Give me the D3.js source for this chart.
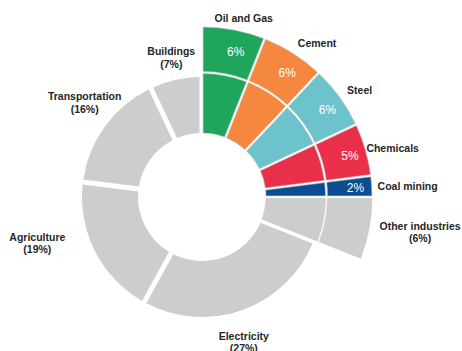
<!DOCTYPE html>
<html>
<head>
<meta charset="utf-8">
<script src="https://cdn.jsdelivr.net/npm/d3@7"></script>
<style>
  html, body { margin: 0; padding: 0; background: #fff; }
  svg { display: block; }
  text { font-family: "Liberation Sans", Arial, sans-serif; }
</style>
</head>
<body>
<svg id="chart" width="462" height="351"></svg>
<script>
// Emission shares by sector (percent of total), clockwise from 12 o'clock
const categories = ["Oil and Gas", "Cement", "Steel", "Chemicals", "Coal mining",
                    "Other industries", "Electricity", "Agriculture", "Transportation", "Buildings"];
const shares = [6, 6, 6, 5, 2, 6, 27, 19, 16, 7];
// Industrial sub-sectors are pulled out into an outer ring
const isIndustry = [true, true, true, true, true, true, false, false, false, false];
// Which slices carry their value inside the outer ring (others show it in the outside label)
const valueInside = [true, true, true, true, true, false, false, false, false, false];
const sliceColors = ["#1fa55c", "#f5883e", "#6dc3cb", "#ea2f4a", "#0c4c90",
                     "#cdcdcd", "#cdcdcd", "#cdcdcd", "#cdcdcd", "#cdcdcd"];

const rows = categories.map((c, i) => ({
  name: c, share: shares[i], industry: isIndustry[i],
  inside: valueInside[i], color: sliceColors[i]
}));

const svg = d3.select("#chart");
const cx = 202, cy = 197;
const g = svg.append("g").attr("transform", `translate(${cx},${cy})`);

const rInner = 64, rOuter = 120, rSplit = 123.5, rRing = 125.5, rExt = 170;

const pie = d3.pie().sort(null).value(d => d.share)
  .startAngle(0).endAngle(2 * Math.PI);
const slices = pie(rows).map(s => {
  // constant-width gaps: wide between grey sectors, narrow among industry pieces
  s.padAngle = s.data.industry && s.data.color !== "#cdcdcd" ? 0.022 : (s.data.industry ? 0.03 : 0.05);
  return s;
});

const arcBase = d3.arc().innerRadius(rInner).outerRadius(rOuter).padRadius(100);
const arcInd = d3.arc().innerRadius(rInner).outerRadius(rSplit).padRadius(100);
const arcRing = d3.arc().innerRadius(rRing).outerRadius(rExt).padRadius(100);

// main donut
g.selectAll("path.base")
  .data(slices)
  .join("path")
  .attr("class", "base")
  .attr("d", d => d.data.industry ? arcInd(d) : arcBase(d))
  .attr("fill", d => d.data.color)
  .attr("stroke", d => d.data.industry ? "#c4c4c4" : "none")
  .attr("stroke-width", 0.6);

// outer ring for industrial sub-sectors
const ringSlices = slices.filter(d => d.data.industry);
g.selectAll("path.ring")
  .data(ringSlices)
  .join("path")
  .attr("class", "ring")
  .attr("d", arcRing)
  .attr("fill", d => d.data.color)
  .attr("stroke", "#c4c4c4")
  .attr("stroke-width", 0.6);

// values inside the outer ring
const fmt = v => v + "%";
g.selectAll("text.val")
  .data(ringSlices.filter(d => d.data.inside))
  .join("text")
  .attr("class", "val")
  .attr("x", d => arcRing.centroid(d)[0] + 6)
  .attr("y", d => arcRing.centroid(d)[1])
  .attr("dy", "0.36em")
  .attr("text-anchor", "middle")
  .attr("fill", "#fff")
  .attr("font-size", 12)
  .text(d => fmt(d.data.share));

// outside labels: placed along each slice's mid-angle, then nudged clear of the ring
const labelRadius = { industry: 185, other: 150, pulled: 220 };
const labelNudge = {
  "Oil and Gas": [7, 3], "Cement": [16, 3], "Steel": [8, 2], "Chemicals": [13, 3],
  "Coal mining": [21, 1], "Other industries": [2, -6], "Electricity": [-9, 4],
  "Agriculture": [-31, -22], "Transportation": [4, -6], "Buildings": [2, 7]
};
const lineH = 12.5;

slices.forEach(d => {
  const name = d.data.name;
  const r = d.data.inside ? labelRadius.industry
          : (d.data.industry ? labelRadius.pulled : labelRadius.other);
  const a = (d.startAngle + d.endAngle) / 2;
  const nud = labelNudge[name];
  const x = Math.sin(a) * r + nud[0];
  const y = -Math.cos(a) * r + nud[1];
  const lines = d.data.inside ? [name] : [name, "(" + fmt(d.data.share) + ")"];
  const t = g.append("text")
    .attr("text-anchor", "middle")
    .attr("font-size", 10.5)
    .attr("font-weight", "bold")
    .attr("fill", "#262626");
  const y0 = y - (lines.length - 1) * lineH / 2;
  lines.forEach((ln, i) => {
    t.append("tspan")
      .attr("x", x)
      .attr("y", y0 + i * lineH)
      .attr("dy", "0.35em")
      .text(ln);
  });
});
</script>
</body>
</html>
